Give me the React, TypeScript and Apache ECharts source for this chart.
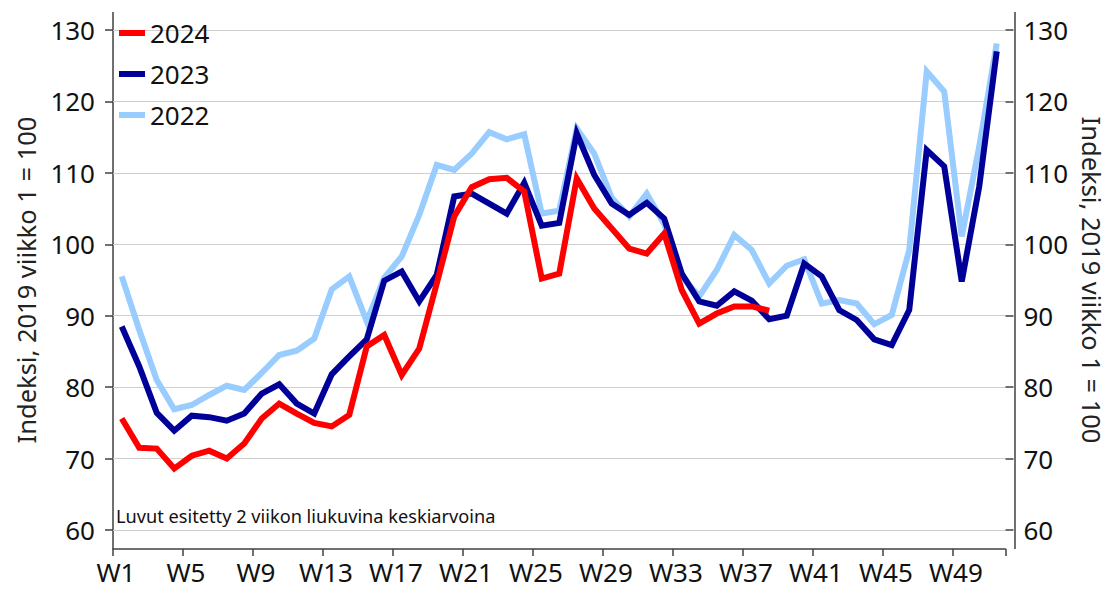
import React, { useEffect, useRef } from "react";
import * as echarts from "echarts";

const weeks: string[] = Array.from({ length: 51 }, (_, i) => `W${i + 1}`);

const v2024: number[] = [
  75.6, 71.5, 71.4, 68.6, 70.4, 71.1, 70.0, 72.1, 75.6, 77.7,
  76.3, 75.0, 74.5, 76.1, 85.7, 87.3, 81.7, 85.4, 94.5, 103.9,
  108.0, 109.1, 109.3, 107.4, 95.2, 95.9, 109.2, 105.0, 102.2, 99.4,
  98.7, 101.5, 93.6, 88.9, 90.3, 91.3, 91.3, 90.7,
];

const v2023: number[] = [
  88.5, 82.9, 76.4, 73.9, 76.0, 75.8, 75.3, 76.3, 79.1, 80.4,
  77.7, 76.3, 81.8, 84.3, 86.7, 94.9, 96.2, 92.0, 95.7, 106.7,
  107.1, 105.7, 104.3, 108.6, 102.6, 103.0, 115.5, 109.7, 105.7, 104.1,
  105.8, 103.6, 95.9, 92.0, 91.4, 93.4, 92.1, 89.5, 90.0, 97.3,
  95.5, 90.8, 89.4, 86.7, 85.9, 90.8, 113.2, 110.9, 94.8, 108.1, 127.0,
];

const v2022: number[] = [
  95.5, 88.0, 81.0, 76.9, 77.5, 78.9, 80.2, 79.6, 82.0, 84.5,
  85.1, 86.8, 93.7, 95.5, 89.2, 95.3, 98.3, 104.1, 111.1, 110.4,
  112.7, 115.7, 114.7, 115.4, 104.3, 104.7, 116.2, 112.7, 106.5, 103.9,
  107.1, 102.8, 95.5, 92.7, 96.4, 101.3, 99.2, 94.5, 97.0, 97.9,
  91.7, 92.2, 91.7, 88.8, 90.1, 99.2, 124.2, 121.4, 101.1, 113.7, 128.1,
];

const seriesNames: string[] = ["2024", "2023", "2022"];
const axisName = "Indeksi, 2019 viikko 1 = 100";
const note = "Luvut esitetty 2 viikon liukuvina keskiarvoina";

const FONT = "Noto Sans";

export default function App() {
  const ref = useRef<HTMLDivElement>(null);
  useEffect(() => {
    if (!ref.current) return;
    const chart = echarts.init(ref.current, null, { renderer: "svg" });
    const gridLeft = 113;
    const gridRight = 1015;
    const band = (gridRight - gridLeft) / weeks.length;
    const yAxisCommon = {
      type: "value" as const,
      min: 60,
      max: 130,
      interval: 10,
      axisLine: { show: false },
      axisTick: { show: true, length: 8, lineStyle: { color: "#404040", width: 1.5 } },
      axisLabel: { fontFamily: FONT, fontSize: 26, color: "#111", margin: 18 },
      name: axisName,
      nameLocation: "middle" as const,
      nameTextStyle: { fontFamily: FONT, fontSize: 25.5, color: "#222" },
    };
    const line = (name: string, data: number[], color: string) => ({
      type: "line" as const,
      name,
      data,
      showSymbol: false,
      symbol: "none",
      lineStyle: { color, width: 6, join: "miter" },
      itemStyle: { color },
      emphasis: { disabled: true },
    });
    chart.setOption({
      animation: false,
      backgroundColor: "#ffffff",
      textStyle: { fontFamily: FONT },
      grid: { left: gridLeft, right: 1113 - gridRight, top: 30, bottom: 60, containLabel: false },
      legend: {
        data: seriesNames,
        orient: "vertical",
        left: 114,
        top: 15,
        icon: "rect",
        itemWidth: 26,
        itemHeight: 6,
        itemGap: 15,
        textStyle: { fontFamily: FONT, fontSize: 26, color: "#111", padding: [0, 0, 0, 0] },
        selectedMode: false,
      },
      xAxis: {
        type: "category",
        data: weeks,
        boundaryGap: true,
        offset: 19,
        axisLine: { show: true, lineStyle: { color: "#404040", width: 1.5 } },
        axisTick: { show: true, interval: 3, length: 7, lineStyle: { color: "#404040", width: 1.5 } },
        axisLabel: {
          interval: 3,
          margin: 10,
          formatter: (v: string) => `{a|${v}}`,
          rich: {
            a: {
              fontFamily: FONT,
              fontSize: 26,
              color: "#111",
              padding: [0, band - 6, 0, 0],
            },
          },
        },
        splitLine: { show: false },
      },
      yAxis: [
        {
          ...yAxisCommon,
          position: "left",
          nameGap: 66,
          splitLine: { show: true, lineStyle: { color: "#cfcfcf", width: 1 } },
        },
        {
          ...yAxisCommon,
          position: "right",
          nameGap: 73,
          nameRotate: -90,
          splitLine: { show: false },
        },
      ],
      graphic: [
        {
          type: "line",
          shape: { x1: gridLeft, y1: 12, x2: gridLeft, y2: 549 },
          style: { stroke: "#404040", lineWidth: 1.5 },
          silent: true,
        },
        {
          type: "line",
          shape: { x1: gridRight, y1: 12, x2: gridRight, y2: 549 },
          style: { stroke: "#404040", lineWidth: 1.5 },
          silent: true,
        },
        {
          type: "text",
          left: 116,
          top: 507,
          style: { text: note, fontFamily: FONT, fontSize: 18.2, fill: "#111" },
          silent: true,
        },
      ],
      series: [
        line("2022", v2022, "#99CCFF"),
        line("2023", v2023, "#000099"),
        line("2024", v2024, "#FF0000"),
      ],
    });
    return () => chart.dispose();
  }, []);
  return (
    <div
      ref={ref}
      style={{ position: "fixed", left: 0, top: 0, width: 1113, height: 590 }}
    />
  );
}
